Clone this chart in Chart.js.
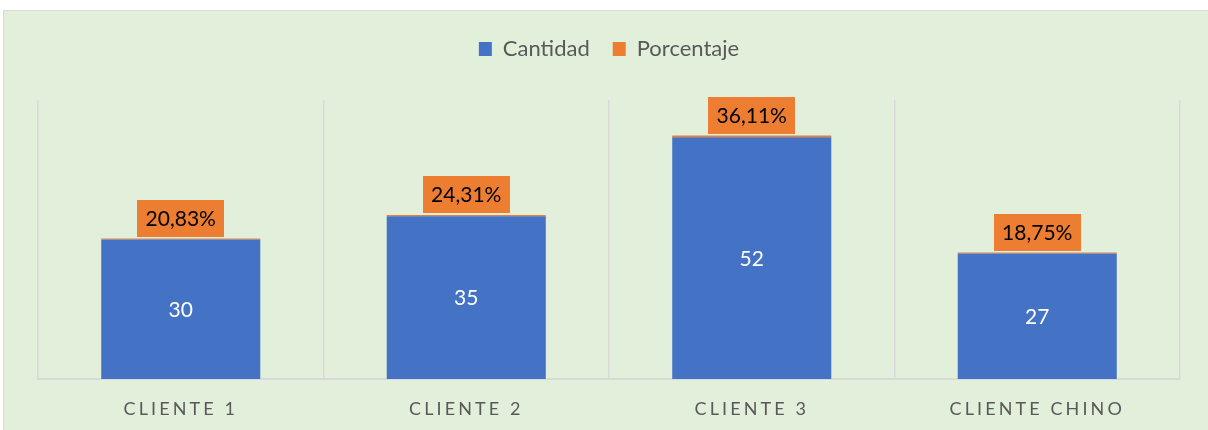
<!DOCTYPE html>
<html>
<head>
<meta charset="utf-8">
<script src="https://cdn.jsdelivr.net/npm/chart.js@4/dist/chart.umd.min.js"></script>
<style>
    html, body { margin: 0; padding: 0; background: #ffffff; }
    #frame {
        position: absolute;
        left: 3px;
        top: 10px;
        width: 1210px;
        height: 425px;
        border: 1px solid #d9d9d9;
        background: #e2efda;
    }
    #wrap { position: absolute; left: 0; top: 0; width: 1204px; height: 419px; }
</style>
</head>
<body>
<div id="frame">
    <div id="wrap"><canvas id="clientChart"></canvas></div>
</div>

<script>
// Cantidad y porcentaje por cliente

var clientes   = ['CLIENTE 1', 'CLIENTE 2', 'CLIENTE 3', 'CLIENTE CHINO'];
var cantidad   = [30, 35, 52, 27];
var porcentaje = [0.2083, 0.2431, 0.3611, 0.1875];

var AZUL    = '#4472c4';
var NARANJA = '#ed7d31';
var GRIS    = '#595959';
var FUENTE  = "Lato, 'Open Sans', sans-serif";

Chart.defaults.font.family = FUENTE;
Chart.defaults.color = GRIS;


function fmtPct(v) {
    return (v * 100).toFixed(2).replace('.', ',') + '%';
}


// labels: white numbers inside blue bars, orange boxes above the stack
var barLabels = {
    id: 'barLabels',
    afterDatasetsDraw: function(chart) {
        var ctx = chart.ctx;
        ctx.save();
        ctx.font = '21px ' + FUENTE;
        ctx.textAlign = 'center';
        ctx.textBaseline = 'middle';

        chart.getDatasetMeta(0).data.forEach(function(bar, i) {
            ctx.fillStyle = '#ffffff';
            ctx.fillText(String(cantidad[i]), bar.x, (bar.y + bar.base) / 2 + 1);
        });

        chart.getDatasetMeta(1).data.forEach(function(bar, i) {
            var txt = fmtPct(porcentaje[i]);
            var w = ctx.measureText(txt).width + 17;
            var h = 37;
            var bottom = bar.y - 2;
            ctx.fillStyle = NARANJA;
            ctx.fillRect(Math.round(bar.x - w / 2), Math.round(bottom - h), Math.round(w), h);
            ctx.fillStyle = '#000000';
            ctx.fillText(txt, bar.x, bottom - h / 2 + 1);
        });
        ctx.restore();
    }
};


// spaced-out category names on the x axis + extra gap under the legend
var spacing = {
    id: 'spacing',
    beforeUpdate: function(chart) {
        var lg = chart.legend;
        if (lg && !lg._gap) {
            var fit = lg.fit.bind(lg);
            lg.fit = function() {
                fit();
                this.height += 30;
            };
            lg._gap = true;
        }
    },
    beforeDraw: function(chart) {
        var xs = chart.scales.x;
        if (xs && !xs._spaced) {
            var orig = xs.drawLabels.bind(xs);
            xs.drawLabels = function(area) {
                this.ctx.save();
                this.ctx.letterSpacing = '3.1px';
                orig(area);
                this.ctx.restore();
            };
            xs._spaced = true;
        }
    }
};


var ctx_c = document.getElementById('clientChart').getContext('2d');

var client_chart = new Chart(ctx_c, {
    type: 'bar',

    data: {
        labels: clientes,
        datasets: [
            {
                label: 'Cantidad',
                data: cantidad,
                backgroundColor: AZUL,
                barPercentage: 0.557,
                categoryPercentage: 1.0,
            },
            {
                label: 'Porcentaje',
                data: porcentaje,
                backgroundColor: NARANJA,
                barPercentage: 0.557,
                categoryPercentage: 1.0,
            },
        ],
    },

    options: {
        responsive: true,
        maintainAspectRatio: false,
        animation: false,
        layout: {
            padding: {left: 34, right: 28, top: 4, bottom: 11},
        },

        scales: {
            x: {
                stacked: true,
                grid: {
                    offset: true,
                    color: '#d9d9d9',
                    lineWidth: 1.5,
                    drawTicks: false,
                },
                border: {color: '#d9d9d9', width: 2},
                ticks: {
                    color: GRIS,
                    padding: 19,
                    font: {size: 18},
                },
                afterFit: function(scale) {
                    scale.height = 40;
                },
            },
            y: {
                stacked: true,
                display: false,
                min: 0,
                max: 60,
            },
        },

        plugins: {
            legend: {
                display: true,
                position: 'top',
                labels: {
                    boxWidth: 13,
                    boxHeight: 14,
                    padding: 23,
                    color: GRIS,
                    font: {size: 22},
                },
            },
            tooltip: {enabled: false},
        },
    },

    plugins: [barLabels, spacing],
});
</script>
</body>
</html>
